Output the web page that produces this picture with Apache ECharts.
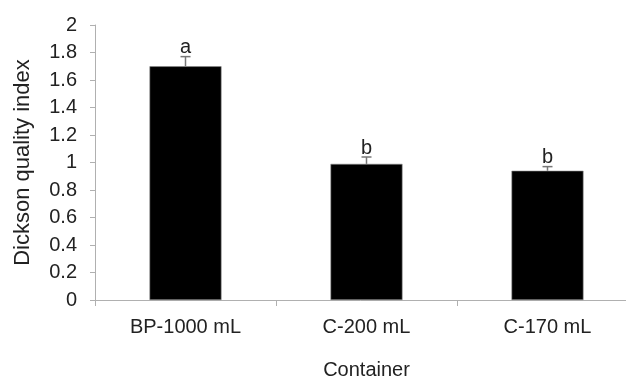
<!DOCTYPE html>
<html>
<head>
<meta charset="utf-8">
<script src="https://cdn.jsdelivr.net/npm/echarts@6/dist/echarts.min.js"></script>
<style>
html, body { margin: 0; padding: 0; background: #fff; }
#main { width: 626px; height: 382px; }
</style>
</head>
<body>
<div id="main"></div>
<script>
// data
var categories = ['BP-1000 mL', 'C-200 mL', 'C-170 mL'];
var dqiMean = [1.70, 0.99, 0.94];
var dqiErr = [0.07, 0.05, 0.03];
var letters = ['a', 'b', 'b'];
var yTicks = [0, 0.2, 0.4, 0.6, 0.8, 1, 1.2, 1.4, 1.6, 1.8, 2];

var font = 'Liberation Sans, Arial, sans-serif';
var axisGray = '#b0b0b0';

var errData = [];
for (var i = 0; i < categories.length; i++) {
    errData.push([i, dqiMean[i], dqiErr[i], letters[i]]);
}

var chart = echarts.init(document.getElementById('main'));
chart.setOption({
    animation: false,
    // the original plot runs past the right edge of the picture
    grid: { left: 95, right: -12, top: 25, bottom: 82, outerBoundsMode: 'none', containLabel: false },
    xAxis: {
        type: 'category',
        data: categories,
        name: 'Container',
        nameLocation: 'middle',
        nameGap: 60,
        nameTextStyle: { fontFamily: font, fontSize: 20, color: '#222' },
        axisLine: { lineStyle: { color: axisGray, width: 1 } },
        axisTick: { show: true, length: 6, lineStyle: { color: axisGray } },
        axisLabel: { fontFamily: font, fontSize: 20, color: '#222', margin: 17 }
    },
    yAxis: {
        type: 'value',
        min: 0,
        max: 2,
        interval: 0.2,
        name: 'Dickson quality index',
        nameLocation: 'middle',
        nameGap: 61,
        nameTextStyle: { fontFamily: font, fontSize: 22, color: '#222' },
        axisLine: { show: true, lineStyle: { color: axisGray, width: 1 } },
        axisTick: { show: true, length: 5, lineStyle: { color: axisGray } },
        splitLine: { show: false },
        axisLabel: {
            fontFamily: font, fontSize: 20, color: '#222', margin: 18,
            formatter: function (v) {
                var t = yTicks.filter(function (k) { return Math.abs(k - v) < 1e-6; });
                return t.length ? String(Number(t[0].toFixed(1))) : '';
            }
        }
    },
    series: [
        {
            type: 'bar',
            data: dqiMean,
            barWidth: 72,
            itemStyle: { color: '#000', borderColor: '#888', borderWidth: 0.6 }
        },
        {
            type: 'custom',
            data: errData,
            z: 3,
            renderItem: function (params, api) {
                var x = api.value(0);
                var m = api.value(1);
                var e = api.value(2);
                var base = api.coord([x, m]);
                var top = api.coord([x, m + e]);
                var cap = 5;
                return {
                    type: 'group',
                    children: [
                        {
                            type: 'line',
                            shape: { x1: base[0], y1: base[1], x2: top[0], y2: top[1] },
                            style: { stroke: '#777', lineWidth: 1.5 }
                        },
                        {
                            type: 'line',
                            shape: { x1: top[0] - cap, y1: top[1], x2: top[0] + cap, y2: top[1] },
                            style: { stroke: '#777', lineWidth: 1.5 }
                        },
                        {
                            type: 'text',
                            style: {
                                text: letters[params.dataIndex],
                                x: top[0],
                                y: top[1] + 1,
                                align: 'center',
                                verticalAlign: 'bottom',
                                font: '20px ' + font,
                                fill: '#222'
                            }
                        }
                    ]
                };
            }
        }
    ]
});
</script>
</body>
</html>
